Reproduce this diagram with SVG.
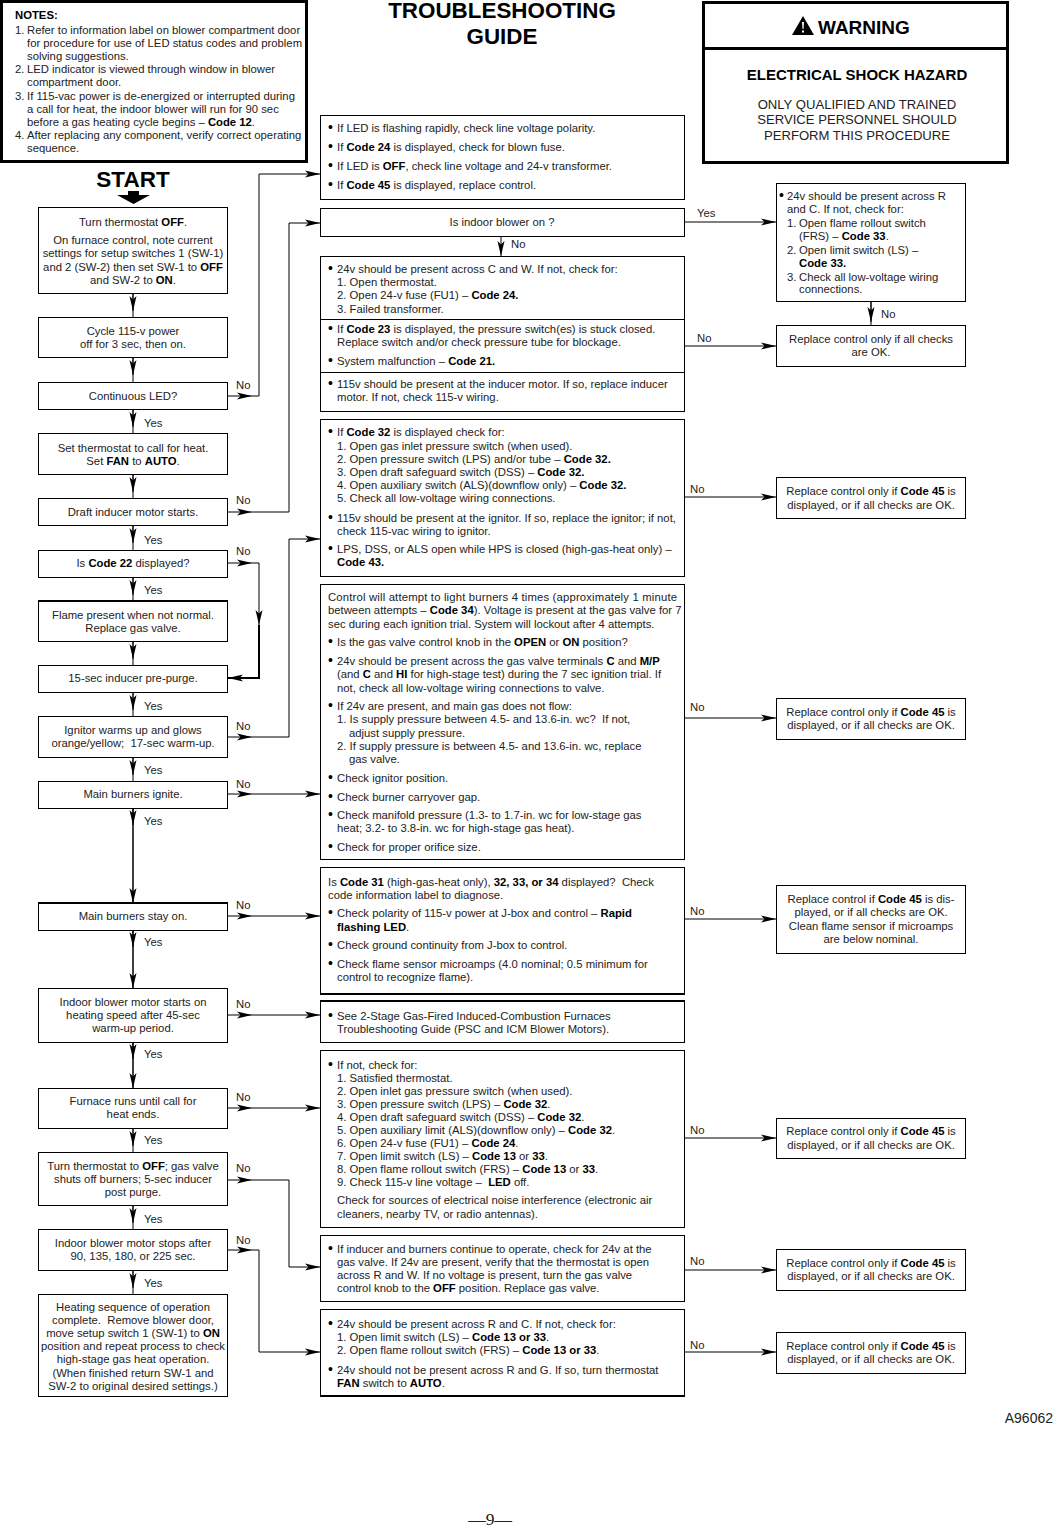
<svg xmlns="http://www.w3.org/2000/svg" width="1053" height="1527" viewBox="0 0 1053 1527">
<style>
text{font-family:"Liberation Sans",Arial,sans-serif;font-size:11.3px;fill:#222;white-space:pre}
.c{text-anchor:middle}
.b{font-weight:bold;fill:#000}
.d{font-size:14px;fill:#000}
.n{fill:#fff;stroke:#000;stroke-width:1}
.h{fill:#fff;stroke:#000;stroke-width:3}
.k{fill:none;stroke:#000;stroke-width:1}
.t{fill:none;stroke:#000;stroke-width:2}
</style>
<defs><marker id="a" markerUnits="userSpaceOnUse" markerWidth="17" markerHeight="9" refX="15" refY="4.500" orient="auto"><path d="M0 1L15 4.500L0 8L3.500 4.500Z" fill="#000"/></marker></defs>
<rect width="1053" height="1527" fill="#fff"/>
<g id="connectors" class="k">
<path d="M133 293V317M133 357V382M133 409V433M133 474V498M133 525V550M133 577V601M133 641V665M133 692V716M133 757V781M133 808V903M133 930V988M133 1042V1088M133 1128V1152M133 1205V1229M133 1270V1294" class="k"/>
<path d="M133 293V311" class="k" marker-end="url(#a)"/><path d="M133 357V375" class="k" marker-end="url(#a)"/><path d="M133 409V427" class="k" marker-end="url(#a)"/><path d="M133 474V492" class="k" marker-end="url(#a)"/><path d="M133 525V543" class="k" marker-end="url(#a)"/><path d="M133 577V595" class="k" marker-end="url(#a)"/><path d="M133 641V659" class="k" marker-end="url(#a)"/><path d="M133 692V710" class="k" marker-end="url(#a)"/><path d="M133 757V775" class="k" marker-end="url(#a)"/><path d="M133 808V825" class="k" marker-end="url(#a)"/><path d="M133 808V903" class="k" marker-end="url(#a)"/><path d="M133 930V947" class="k" marker-end="url(#a)"/><path d="M133 930V988" class="k" marker-end="url(#a)"/><path d="M133 1042V1059" class="k" marker-end="url(#a)"/><path d="M133 1042V1088" class="k" marker-end="url(#a)"/><path d="M133 1128V1146" class="k" marker-end="url(#a)"/><path d="M133 1205V1223" class="k" marker-end="url(#a)"/><path d="M133 1270V1288" class="k" marker-end="url(#a)"/>
<path d="M227 396H252" class="k" marker-end="url(#a)"/><path d="M252 396H259V174H320" class="k" marker-end="url(#a)"/>
<path d="M227 512H252" class="k" marker-end="url(#a)"/><path d="M252 512H289V223H320" class="k" marker-end="url(#a)"/>
<path d="M227 563H252" class="k" marker-end="url(#a)"/><path d="M252 563H259V625" class="k" marker-end="url(#a)"/><path d="M259 625V678H228" class="t" marker-end="url(#a)"/>
<path d="M227 737H252" class="k" marker-end="url(#a)"/><path d="M252 737H289V539H320" class="k" marker-end="url(#a)"/>
<path d="M227 794H252" class="k" marker-end="url(#a)"/><path d="M252 794H320" class="k" marker-end="url(#a)"/>
<path d="M227 916H252" class="k" marker-end="url(#a)"/><path d="M252 916H320" class="k" marker-end="url(#a)"/>
<path d="M227 1015H252" class="k" marker-end="url(#a)"/><path d="M252 1015H320" class="k" marker-end="url(#a)"/>
<path d="M227 1108H252" class="k" marker-end="url(#a)"/><path d="M252 1108H320" class="k" marker-end="url(#a)"/>
<path d="M227 1180H252" class="k" marker-end="url(#a)"/><path d="M252 1180H289V1267H320" class="k" marker-end="url(#a)"/>
<path d="M227 1250H252" class="k" marker-end="url(#a)"/><path d="M252 1250H259V1352H320" class="k" marker-end="url(#a)"/>
<path d="M501 236V256" class="k" marker-end="url(#a)"/>
<path d="M685 222H776" class="k" marker-end="url(#a)"/><path d="M685 346H776" class="k" marker-end="url(#a)"/><path d="M685 497H776" class="k" marker-end="url(#a)"/><path d="M685 718H776" class="k" marker-end="url(#a)"/><path d="M685 919H776" class="k" marker-end="url(#a)"/><path d="M685 1138H776" class="k" marker-end="url(#a)"/><path d="M685 1270H776" class="k" marker-end="url(#a)"/><path d="M685 1352H776" class="k" marker-end="url(#a)"/>
<path d="M871 301V325" class="k"/><path d="M871 301V322" class="k" marker-end="url(#a)"/>
</g>
<g id="labels">
<text x="236" y="389">No</text><text x="236" y="504">No</text><text x="236" y="555">No</text><text x="236" y="730">No</text><text x="236" y="788">No</text><text x="236" y="909">No</text><text x="236" y="1008">No</text><text x="236" y="1101">No</text><text x="236" y="1172">No</text><text x="236" y="1244">No</text>
<text x="144" y="427">Yes</text><text x="144" y="544">Yes</text><text x="144" y="594">Yes</text><text x="144" y="710">Yes</text><text x="144" y="774">Yes</text><text x="144" y="825">Yes</text><text x="144" y="946">Yes</text><text x="144" y="1058">Yes</text><text x="144" y="1144">Yes</text><text x="144" y="1223">Yes</text><text x="144" y="1287">Yes</text>
<text x="511" y="248">No</text><text x="697" y="217">Yes</text><text x="697" y="342">No</text><text x="690" y="493">No</text><text x="690" y="711">No</text><text x="690" y="915">No</text><text x="690" y="1134">No</text><text x="690" y="1265">No</text><text x="690" y="1349">No</text><text x="881" y="318">No</text>
</g>
<g id="notes"><rect class="h" x="1.500" y="1.500" width="305" height="160"/>
<text x="15" y="19" class="b">NOTES:</text>
<text x="15" y="34">1.<tspan x="27">Refer to information label on blower compartment door</tspan></text>
<text x="27" y="47">for procedure for use of LED status codes and problem</text>
<text x="27" y="60">solving suggestions.</text>
<text x="15" y="73">2.<tspan x="27">LED indicator is viewed through window in blower</tspan></text>
<text x="27" y="86">compartment door.</text>
<text x="15" y="100">3.<tspan x="27">If 115-vac power is de-energized or interrupted during</tspan></text>
<text x="27" y="113">a call for heat, the indoor blower will run for 90 sec</text>
<text x="27" y="126">before a gas heating cycle begins – <tspan class="b">Code 12</tspan>.</text>
<text x="15" y="139">4.<tspan x="27">After replacing any component, verify correct operating</tspan></text>
<text x="27" y="152">sequence.</text>
</g>
<g id="title"><text x="502" y="17.500" class="c b" style="font-size:22.400px">TROUBLESHOOTING</text><text x="502" y="44" class="c b" style="font-size:22.400px">GUIDE</text></g>
<g id="warning"><rect class="h" x="703.500" y="2.500" width="304" height="160"/><path class="h" d="M703 48.500H1008"/>
<path d="M803 16L792 35H814Z" fill="#000"/><path d="M802 22h2l-.5 7h-1ZM802 30.500h2v2h-2Z" fill="#fff"/>
<text x="818" y="34" class="b" style="font-size:19px">WARNING</text>
<text x="857" y="80" class="c b" style="font-size:15px">ELECTRICAL SHOCK HAZARD</text>
<text x="857" y="109" class="c" style="font-size:13.100px">ONLY QUALIFIED AND TRAINED</text><text x="857" y="124" class="c" style="font-size:13.100px">SERVICE PERSONNEL SHOULD</text><text x="857" y="140" class="c" style="font-size:13.100px">PERFORM THIS PROCEDURE</text></g>
<g id="start"><text x="133" y="187" class="c b" style="font-size:22.500px">START</text><path d="M117 195H128V191H139V195H150L133.500 204Z" fill="#000"/></g>
<g id="s1"><rect class="n" x="38.500" y="207.500" width="189" height="86"/><text x="133" y="226" class="c">Turn thermostat <tspan class="b">OFF</tspan>.</text><text x="133" y="244" class="c">On furnace control, note current</text><text x="133" y="257" class="c">settings for setup switches 1 (SW-1)</text><text x="133" y="271" class="c">and 2 (SW-2) then set SW-1 to <tspan class="b">OFF</tspan></text><text x="133" y="284" class="c">and SW-2 to <tspan class="b">ON</tspan>.</text></g>
<g id="s2"><rect class="n" x="38.500" y="317.500" width="189" height="40"/><text x="133" y="335" class="c">Cycle 115-v power</text><text x="133" y="348" class="c">off for 3 sec, then on.</text></g>
<g id="s3"><rect class="n" x="38.500" y="382.500" width="189" height="27"/><text x="133" y="400" class="c">Continuous LED?</text></g>
<g id="s4"><rect class="n" x="38.500" y="433.500" width="189" height="41"/><text x="133" y="452" class="c">Set thermostat to call for heat.</text><text x="133" y="465" class="c">Set <tspan class="b">FAN</tspan> to <tspan class="b">AUTO</tspan>.</text></g>
<g id="s5"><rect class="n" x="38.500" y="498.500" width="189" height="27"/><text x="133" y="516" class="c">Draft inducer motor starts.</text></g>
<g id="s6"><rect class="n" x="38.500" y="550.500" width="189" height="27"/><text x="133" y="567" class="c">Is <tspan class="b">Code 22</tspan> displayed?</text></g>
<g id="s7"><rect class="n" x="38.500" y="601.500" width="189" height="40"/><path class="t" d="M38 601H228"/><text x="133" y="619" class="c">Flame present when not normal.</text><text x="133" y="632" class="c">Replace gas valve.</text></g>
<g id="s8"><rect class="n" x="38.500" y="665.500" width="189" height="27"/><text x="133" y="682" class="c">15-sec inducer pre-purge.</text></g>
<g id="s9"><rect class="n" x="38.500" y="716.500" width="189" height="41"/><text x="133" y="734" class="c">Ignitor warms up and glows</text><text x="133" y="747" class="c">orange/yellow;  17-sec warm-up.</text></g>
<g id="s10"><rect class="n" x="38.500" y="781.500" width="189" height="27"/><text x="133" y="798" class="c">Main burners ignite.</text></g>
<g id="s11"><rect class="n" x="38.500" y="903.500" width="189" height="27"/><path class="t" d="M38 903H228"/><text x="133" y="920" class="c">Main burners stay on.</text></g>
<g id="s12"><rect class="n" x="38.500" y="988.500" width="189" height="54"/><text x="133" y="1006" class="c">Indoor blower motor starts on</text><text x="133" y="1019" class="c">heating speed after 45-sec</text><text x="133" y="1032" class="c">warm-up period.</text></g>
<g id="s13"><rect class="n" x="38.500" y="1088.500" width="189" height="40"/><text x="133" y="1105" class="c">Furnace runs until call for</text><text x="133" y="1118" class="c">heat ends.</text></g>
<g id="s14"><rect class="n" x="38.500" y="1152.500" width="189" height="53"/><text x="133" y="1170" class="c">Turn thermostat to <tspan class="b">OFF</tspan>; gas valve</text><text x="133" y="1183" class="c">shuts off burners; 5-sec inducer</text><text x="133" y="1196" class="c">post purge.</text></g>
<g id="s15"><rect class="n" x="38.500" y="1229.500" width="189" height="41"/><text x="133" y="1247" class="c">Indoor blower motor stops after</text><text x="133" y="1260" class="c">90, 135, 180, or 225 sec.</text></g>
<g id="s16"><rect class="n" x="38.500" y="1294.500" width="189" height="102"/><text x="133" y="1311" class="c">Heating sequence of operation</text><text x="133" y="1324" class="c">complete.  Remove blower door,</text><text x="133" y="1337" class="c">move setup switch 1 (SW-1) to <tspan class="b">ON</tspan></text><text x="133" y="1350" class="c">position and repeat process to check</text><text x="133" y="1363" class="c">high-stage gas heat operation.</text><text x="133" y="1377" class="c">(When finished return SW-1 and</text><text x="133" y="1390" class="c">SW-2 to original desired settings.)</text></g>
<g id="m1"><rect class="n" x="320.500" y="115.500" width="364" height="84"/>
<text x="328" y="132"><tspan class="d">•</tspan><tspan x="337">If LED is flashing rapidly, check line voltage polarity.</tspan></text>
<text x="328" y="151"><tspan class="d">•</tspan><tspan x="337">If </tspan><tspan class="b">Code 24</tspan> is displayed, check for blown fuse.</text>
<text x="328" y="170"><tspan class="d">•</tspan><tspan x="337">If LED is </tspan><tspan class="b">OFF</tspan>, check line voltage and 24-v transformer.</text>
<text x="328" y="189"><tspan class="d">•</tspan><tspan x="337">If </tspan><tspan class="b">Code 45</tspan> is displayed, replace control.</text></g>
<g id="m2"><rect class="n" x="320.500" y="208.500" width="364" height="28"/><text x="502" y="226" class="c">Is indoor blower on ?</text></g>
<g id="m3"><rect class="n" x="320.500" y="256.500" width="364" height="155"/><path class="k" d="M320 319.500H685M320 372.500H685"/>
<text x="328" y="273"><tspan class="d">•</tspan><tspan x="337">24v should be present across C and W. If not, check for:</tspan></text>
<text x="337" y="286">1. Open thermostat.</text>
<text x="337" y="299">2. Open 24-v fuse (FU1) – <tspan class="b">Code 24.</tspan></text>
<text x="337" y="313">3. Failed transformer.</text>
<text x="328" y="333"><tspan class="d">•</tspan><tspan x="337">If </tspan><tspan class="b">Code 23</tspan> is displayed, the pressure switch(es) is stuck closed.</text>
<text x="337" y="346">Replace switch and/or check pressure tube for blockage.</text>
<text x="328" y="365"><tspan class="d">•</tspan><tspan x="337">System malfunction – </tspan><tspan class="b">Code 21.</tspan></text>
<text x="328" y="388"><tspan class="d">•</tspan><tspan x="337">115v should be present at the inducer motor. If so, replace inducer</tspan></text>
<text x="337" y="401">motor. If not, check 115-v wiring.</text></g>
<g id="m4"><rect class="n" x="320.500" y="419.500" width="364" height="157"/>
<text x="328" y="436"><tspan class="d">•</tspan><tspan x="337">If </tspan><tspan class="b">Code 32</tspan> is displayed check for:</text>
<text x="337" y="450">1. Open gas inlet pressure switch (when used).</text>
<text x="337" y="463">2. Open pressure switch (LPS) and/or tube – <tspan class="b">Code 32.</tspan></text>
<text x="337" y="476">3. Open draft safeguard switch (DSS) – <tspan class="b">Code 32.</tspan></text>
<text x="337" y="489">4. Open auxiliary switch (ALS)(downflow only) – <tspan class="b">Code 32.</tspan></text>
<text x="337" y="502">5. Check all low-voltage wiring connections.</text>
<text x="328" y="522"><tspan class="d">•</tspan><tspan x="337">115v should be present at the ignitor. If so, replace the ignitor; if not,</tspan></text>
<text x="337" y="535">check 115-vac wiring to ignitor.</text>
<text x="328" y="553"><tspan class="d">•</tspan><tspan x="337">LPS, DSS, or ALS open while HPS is closed (high-gas-heat only) –</tspan></text>
<text x="337" y="566" class="b">Code 43.</text></g>
<g id="m5"><rect class="n" x="320.500" y="584.500" width="364" height="275"/>
<text x="328" y="601" textLength="349">Control will attempt to light burners 4 times (approximately 1 minute</text>
<text x="328" y="614">between attempts – <tspan class="b">Code 34</tspan>). Voltage is present at the gas valve for 7</text>
<text x="328" y="628">sec during each ignition trial. System will lockout after 4 attempts.</text>
<text x="328" y="646"><tspan class="d">•</tspan><tspan x="337">Is the gas valve control knob in the </tspan><tspan class="b">OPEN</tspan> or <tspan class="b">ON</tspan> position?</text>
<text x="328" y="665"><tspan class="d">•</tspan><tspan x="337">24v should be present across the gas valve terminals </tspan><tspan class="b">C</tspan> and <tspan class="b">M/P</tspan></text>
<text x="337" y="678">(and <tspan class="b">C</tspan> and <tspan class="b">HI</tspan> for high-stage test) during the 7 sec ignition trial. If</text>
<text x="337" y="692">not, check all low-voltage wiring connections to valve.</text>
<text x="328" y="710"><tspan class="d">•</tspan><tspan x="337">If 24v are present, and main gas does not flow:</tspan></text>
<text x="337" y="723">1. Is supply pressure between 4.5- and 13.6-in. wc?  If not,</text>
<text x="349" y="737">adjust supply pressure.</text>
<text x="337" y="750">2. If supply pressure is between 4.5- and 13.6-in. wc, replace</text>
<text x="349" y="763">gas valve.</text>
<text x="328" y="782"><tspan class="d">•</tspan><tspan x="337">Check ignitor position.</tspan></text>
<text x="328" y="801"><tspan class="d">•</tspan><tspan x="337">Check burner carryover gap.</tspan></text>
<text x="328" y="819"><tspan class="d">•</tspan><tspan x="337">Check manifold pressure (1.3- to 1.7-in. wc for low-stage gas</tspan></text>
<text x="337" y="832">heat; 3.2- to 3.8-in. wc for high-stage gas heat).</text>
<text x="328" y="851"><tspan class="d">•</tspan><tspan x="337">Check for proper orifice size.</tspan></text></g>
<g id="m6"><rect class="n" x="320.500" y="867.500" width="364" height="127"/><path class="t" d="M320 994H685"/>
<text x="328" y="886">Is <tspan class="b">Code 31</tspan> (high-gas-heat only), <tspan class="b">32, 33, or 34</tspan> displayed?  Check</text>
<text x="328" y="899">code information label to diagnose.</text>
<text x="328" y="917"><tspan class="d">•</tspan><tspan x="337">Check polarity of 115-v power at J-box and control – </tspan><tspan class="b">Rapid</tspan></text>
<text x="337" y="931"><tspan class="b">flashing LED</tspan>.</text>
<text x="328" y="949"><tspan class="d">•</tspan><tspan x="337">Check ground continuity from J-box to control.</tspan></text>
<text x="328" y="968"><tspan class="d">•</tspan><tspan x="337">Check flame sensor microamps (4.0 nominal; 0.5 minimum for</tspan></text>
<text x="337" y="981">control to recognize flame).</text></g>
<g id="m7"><rect class="n" x="320.500" y="1001.500" width="364" height="41"/><path class="t" d="M320 1001H685"/>
<text x="328" y="1020"><tspan class="d">•</tspan><tspan x="337">See 2-Stage Gas-Fired Induced-Combustion Furnaces</tspan></text>
<text x="337" y="1033">Troubleshooting Guide (PSC and ICM Blower Motors).</text></g>
<g id="m8"><rect class="n" x="320.500" y="1050.500" width="364" height="177"/>
<text x="328" y="1069"><tspan class="d">•</tspan><tspan x="337">If not, check for:</tspan></text>
<text x="337" y="1082">1. Satisfied thermostat.</text>
<text x="337" y="1095">2. Open inlet gas pressure switch (when used).</text>
<text x="337" y="1108">3. Open pressure switch (LPS) – <tspan class="b">Code 32</tspan>.</text>
<text x="337" y="1121">4. Open draft safeguard switch (DSS) – <tspan class="b">Code 32</tspan>.</text>
<text x="337" y="1134">5. Open auxiliary limit (ALS)(downflow only) – <tspan class="b">Code 32</tspan>.</text>
<text x="337" y="1147">6. Open 24-v fuse (FU1) – <tspan class="b">Code 24</tspan>.</text>
<text x="337" y="1160">7. Open limit switch (LS) – <tspan class="b">Code 13</tspan> or <tspan class="b">33</tspan>.</text>
<text x="337" y="1173">8. Open flame rollout switch (FRS) – <tspan class="b">Code 13</tspan> or <tspan class="b">33</tspan>.</text>
<text x="337" y="1186">9. Check 115-v line voltage –  <tspan class="b">LED</tspan> off.</text>
<text x="337" y="1204">Check for sources of electrical noise interference (electronic air</text>
<text x="337" y="1218">cleaners, nearby TV, or radio antennas).</text></g>
<g id="m9"><rect class="n" x="320.500" y="1235.500" width="364" height="66"/>
<text x="328" y="1253"><tspan class="d">•</tspan><tspan x="337">If inducer and burners continue to operate, check for 24v at the</tspan></text>
<text x="337" y="1266">gas valve. If 24v are present, verify that the thermostat is open</text>
<text x="337" y="1279">across R and W. If no voltage is present, turn the gas valve</text>
<text x="337" y="1292">control knob to the <tspan class="b">OFF</tspan> position. Replace gas valve.</text></g>
<g id="m10"><rect class="n" x="320.500" y="1309.500" width="364" height="87"/><path class="t" d="M320 1396H685"/>
<text x="328" y="1328"><tspan class="d">•</tspan><tspan x="337">24v should be present across R and C. If not, check for:</tspan></text>
<text x="337" y="1341">1. Open limit switch (LS) – <tspan class="b">Code 13 or 33</tspan>.</text>
<text x="337" y="1354">2. Open flame rollout switch (FRS) – <tspan class="b">Code 13 or 33</tspan>.</text>
<text x="328" y="1374"><tspan class="d">•</tspan><tspan x="337">24v should not be present across R and G. If so, turn thermostat</tspan></text>
<text x="337" y="1387"><tspan class="b">FAN</tspan> switch to <tspan class="b">AUTO</tspan>.</text></g>
<g id="r1"><rect class="n" x="776.500" y="183.500" width="189" height="118"/>
<text x="779" y="200"><tspan class="d">•</tspan><tspan x="787">24v should be present across R</tspan></text>
<text x="787" y="213">and C. If not, check for:</text>
<text x="787" y="227">1.<tspan x="799">Open flame rollout switch</tspan></text>
<text x="799" y="240">(FRS) – <tspan class="b">Code 33</tspan>.</text>
<text x="787" y="254">2.<tspan x="799">Open limit switch (LS) –</tspan></text>
<text x="799" y="267" class="b">Code 33.</text>
<text x="787" y="281">3.<tspan x="799">Check all low-voltage wiring</tspan></text>
<text x="799" y="293">connections.</text></g>
<g id="r2"><rect class="n" x="776.500" y="325.500" width="189" height="41"/><text x="871" y="343" class="c">Replace control only if all checks</text><text x="871" y="356" class="c">are OK.</text></g>
<g id="r3"><rect class="n" x="776.500" y="477.500" width="189" height="41"/><text x="871" y="495" class="c">Replace control only if <tspan class="b">Code 45</tspan> is</text><text x="871" y="509" class="c">displayed, or if all checks are OK.</text></g>
<g id="r4"><rect class="n" x="776.500" y="698.500" width="189" height="41"/><text x="871" y="716" class="c">Replace control only if <tspan class="b">Code 45</tspan> is</text><text x="871" y="729" class="c">displayed, or if all checks are OK.</text></g>
<g id="r5"><rect class="n" x="776.500" y="885.500" width="189" height="68"/><text x="871" y="903" class="c">Replace control if <tspan class="b">Code 45</tspan> is dis-</text><text x="871" y="916" class="c">played, or if all checks are OK.</text><text x="871" y="930" class="c">Clean flame sensor if microamps</text><text x="871" y="943" class="c">are below nominal.</text></g>
<g id="r6"><rect class="n" x="776.500" y="1118.500" width="189" height="40"/><text x="871" y="1135" class="c">Replace control only if <tspan class="b">Code 45</tspan> is</text><text x="871" y="1149" class="c">displayed, or if all checks are OK.</text></g>
<g id="r7"><rect class="n" x="776.500" y="1249.500" width="189" height="41"/><text x="871" y="1267" class="c">Replace control only if <tspan class="b">Code 45</tspan> is</text><text x="871" y="1280" class="c">displayed, or if all checks are OK.</text></g>
<g id="r8"><rect class="n" x="776.500" y="1332.500" width="189" height="41"/><text x="871" y="1350" class="c">Replace control only if <tspan class="b">Code 45</tspan> is</text><text x="871" y="1363" class="c">displayed, or if all checks are OK.</text></g>
<g id="footer"><text x="1053" y="1423" text-anchor="end" style="font-size:14px">A96062</text><text x="490" y="1525" class="c" style="font-family:'Liberation Serif',serif;font-size:17.500px">—9—</text></g>
</svg>
